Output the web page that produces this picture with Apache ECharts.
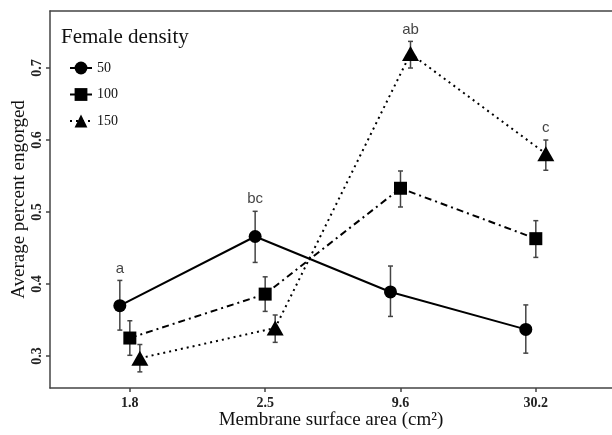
<!DOCTYPE html>
<html>
<head>
<meta charset="utf-8">
<script src="https://cdn.jsdelivr.net/npm/echarts@6/dist/echarts.min.js"></script>
<style>
  html, body { margin: 0; padding: 0; background: #fff; }
  #main { width: 612px; height: 435px; }
</style>
</head>
<body>
<div id="main"></div>
<script>
// membrane surface area categories
var areas = ['1.8', '2.5', '9.6', '30.2'];
var yTicks = [0.3, 0.4, 0.5, 0.6, 0.7];

// female density 50
var mean50 = [0.370, 0.466, 0.389, 0.337];
var lo50 = [0.336, 0.430, 0.355, 0.304];
var hi50 = [0.405, 0.501, 0.425, 0.371];
// female density 100
var mean100 = [0.325, 0.386, 0.533, 0.463];
var lo100 = [0.301, 0.362, 0.507, 0.437];
var hi100 = [0.349, 0.410, 0.557, 0.488];
// female density 150
var mean150 = [0.297, 0.339, 0.720, 0.581];
var lo150 = [0.278, 0.319, 0.700, 0.558];
var hi150 = [0.316, 0.357, 0.737, 0.600];

// significance letters: which group they sit above
var letters = ['a', 'bc', 'ab', 'c'];
var letterGroup = ['50', '50', '150', '150'];

var serif = "'Liberation Serif', 'Times New Roman', serif";
var axisGray = '#444';
var dodge = { '50': -0.074, '100': 0, '150': 0.074 };

function points(group, vals) {
    return vals.map(function (v, i) { return [i + 1 + dodge[group], v]; });
}
function bars(group, lo, hi) {
    return lo.map(function (v, i) { return [i + 1 + dodge[group], v, hi[i]]; });
}

var groups = {
    '50': { mean: mean50, lo: lo50, hi: hi50 },
    '100': { mean: mean100, lo: lo100, hi: hi100 },
    '150': { mean: mean150, lo: lo150, hi: hi150 }
};

function errorBar(params, api) {
    var x = api.value(0);
    var p1 = api.coord([x, api.value(1)]);
    var p2 = api.coord([x, api.value(2)]);
    var cap = 2.5;
    var st = { stroke: axisGray, lineWidth: 1.5 };
    return {
        type: 'group',
        children: [
            { type: 'line', shape: { x1: p1[0], y1: p1[1], x2: p2[0], y2: p2[1] }, style: st },
            { type: 'line', shape: { x1: p1[0] - cap, y1: p1[1], x2: p1[0] + cap, y2: p1[1] }, style: st },
            { type: 'line', shape: { x1: p2[0] - cap, y1: p2[1], x2: p2[0] + cap, y2: p2[1] }, style: st }
        ]
    };
}

var letterData = letters.map(function (l, i) {
    var g = letterGroup[i];
    return { value: [i + 1 + dodge[g], groups[g].hi[i]], name: l };
});

var chart = echarts.init(document.getElementById('main'), null, { renderer: 'canvas' });
var option = {
    animation: false,
    title: {
        text: 'Female density',
        left: 61,
        top: 27,
        padding: 0,
        textStyle: { fontFamily: serif, fontSize: 21, fontWeight: 'normal', color: '#111' }
    },
    legend: {
        data: ['50', '100', '150'],
        orient: 'vertical',
        left: 69,
        top: 61,
        padding: 0,
        itemWidth: 22,
        itemHeight: 16,
        itemGap: 12.5,
        textStyle: { fontFamily: serif, fontSize: 14, color: '#111' }
    },
    grid: { left: 50, right: 0, top: 11, bottom: 47, outerBoundsMode: 'none', containLabel: false },
    xAxis: [{
        type: 'value',
        min: 0.41,
        max: 4.563,
        splitLine: { show: false },
        axisLine: { lineStyle: { color: axisGray, width: 1.5 } },
        axisTick: { customValues: [1, 2, 3, 4], length: 4, lineStyle: { color: axisGray, width: 1.5 } },
        axisLabel: {
            customValues: [1, 2, 3, 4],
            formatter: function (v) { return areas[Math.round(v) - 1]; },
            margin: 8,
            fontFamily: serif, fontSize: 14, fontWeight: 'bold', color: '#222'
        },
        name: 'Membrane surface area (cm²)',
        nameLocation: 'middle',
        nameGap: 23,
        nameMoveOverlap: false,
        nameTextStyle: { fontFamily: serif, fontSize: 19, color: '#111' }
    }, {
        type: 'value',
        position: 'top',
        min: 0.41,
        max: 4.563,
        splitLine: { show: false },
        axisLine: { show: true, lineStyle: { color: axisGray, width: 1.5 } },
        axisTick: { show: false },
        axisLabel: { show: false }
    }],
    yAxis: {
        type: 'value',
        min: 0.2556,
        max: 0.7792,
        splitLine: { show: false },
        axisLine: { show: true, lineStyle: { color: axisGray, width: 1.5 } },
        axisTick: { show: true, customValues: yTicks, length: 4, lineStyle: { color: axisGray, width: 1.5 } },
        axisLabel: {
            customValues: yTicks,
            rotate: 90,
            margin: 6,
            formatter: function (v) { return v.toFixed(1); },
            fontFamily: serif, fontSize: 14, fontWeight: 'bold', color: '#222'
        },
        name: 'Average percent engorged',
        nameLocation: 'middle',
        nameGap: 21,
        nameMoveOverlap: false,
        nameTextStyle: { fontFamily: serif, fontSize: 19, color: '#111' }
    },
    series: [
        { type: 'custom', name: 'err50', renderItem: errorBar, data: bars('50', lo50, hi50), z: 1 },
        { type: 'custom', name: 'err100', renderItem: errorBar, data: bars('100', lo100, hi100), z: 1 },
        { type: 'custom', name: 'err150', renderItem: errorBar, data: bars('150', lo150, hi150), z: 1 },
        {
            type: 'line', name: '50', data: points('50', mean50),
            symbol: 'circle', symbolSize: 13,
            lineStyle: { color: '#000', width: 2 },
            itemStyle: { color: '#000' }, z: 3
        },
        {
            type: 'line', name: '100', data: points('100', mean100),
            symbol: 'rect', symbolSize: 13,
            lineStyle: { color: '#000', width: 2, type: [7, 4, 2, 4] },
            itemStyle: { color: '#000' }, z: 3
        },
        {
            type: 'line', name: '150', data: points('150', mean150),
            symbol: 'triangle', symbolSize: [17, 15],
            lineStyle: { color: '#000', width: 2, type: [2, 4] },
            itemStyle: { color: '#000' }, z: 3
        },
        {
            type: 'scatter', name: 'letters', data: letterData,
            symbolSize: 1,
            itemStyle: { color: 'transparent' },
            label: {
                show: true, position: 'top', distance: 4,
                formatter: function (p) { return p.name; },
                fontFamily: "'Liberation Sans', Arial, sans-serif", fontSize: 15, color: '#111'
            },
            silent: true, z: 4
        }
    ]
};
chart.setOption(option);
</script>
</body>
</html>
